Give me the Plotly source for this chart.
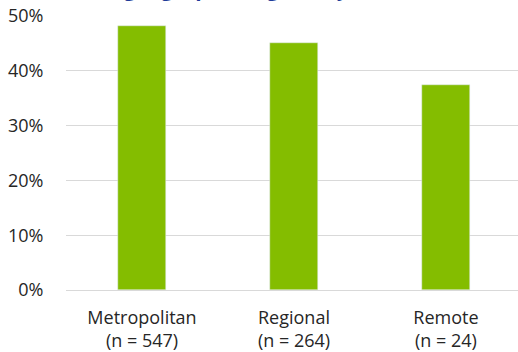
import plotly.graph_objects as go

categories = ["Metropolitan<br>(n = 547)", "Regional<br>(n = 264)", "Remote<br>(n = 24)"]
values = [0.482, 0.451, 0.374]
y_ticks = [0, 0.1, 0.2, 0.3, 0.4, 0.5]
y_tick_labels = ["0%", "10%", "20%", "30%", "40%", "50%"]
title_text = "geographic region, by"

fig = go.Figure(go.Bar(x=categories, y=values, marker_color="#84BD00", width=0.316))

fig.update_layout(
    width=518, height=352,
    margin=dict(l=66, r=0, t=16, b=62, autoexpand=False),
    plot_bgcolor="white", paper_bgcolor="white",
    font=dict(family="Open Sans", size=18, color="#262626"),
    showlegend=False,
    bargap=0,
)
fig.update_xaxes(range=[-0.5, 2.474], ticks="outside", ticklen=11, tickcolor="rgba(0,0,0,0)",
                 showgrid=False, showline=False, automargin=False)
fig.update_yaxes(range=[0, 0.5], tickvals=y_ticks, ticktext=y_tick_labels,
                 showgrid=True, gridcolor="#D9D9D9", gridwidth=1, zeroline=True,
                 zerolinecolor="#D9D9D9", zerolinewidth=1, automargin=False,
                 ticks="outside", ticklen=18, tickcolor="rgba(0,0,0,0)")
fig.add_annotation(text="<b>" + title_text + "</b>", xref="paper", yref="paper",
                   x=(122 - 66) / 452, y=1 + 12 / 274, xanchor="left", yanchor="bottom",
                   showarrow=False, font=dict(family="Open Sans", size=21, color="#1F3D99"))

fig.write_html("out.html", config={"displayModeBar": False},
               post_script="document.body.style.margin='0';document.body.style.padding='0';")
